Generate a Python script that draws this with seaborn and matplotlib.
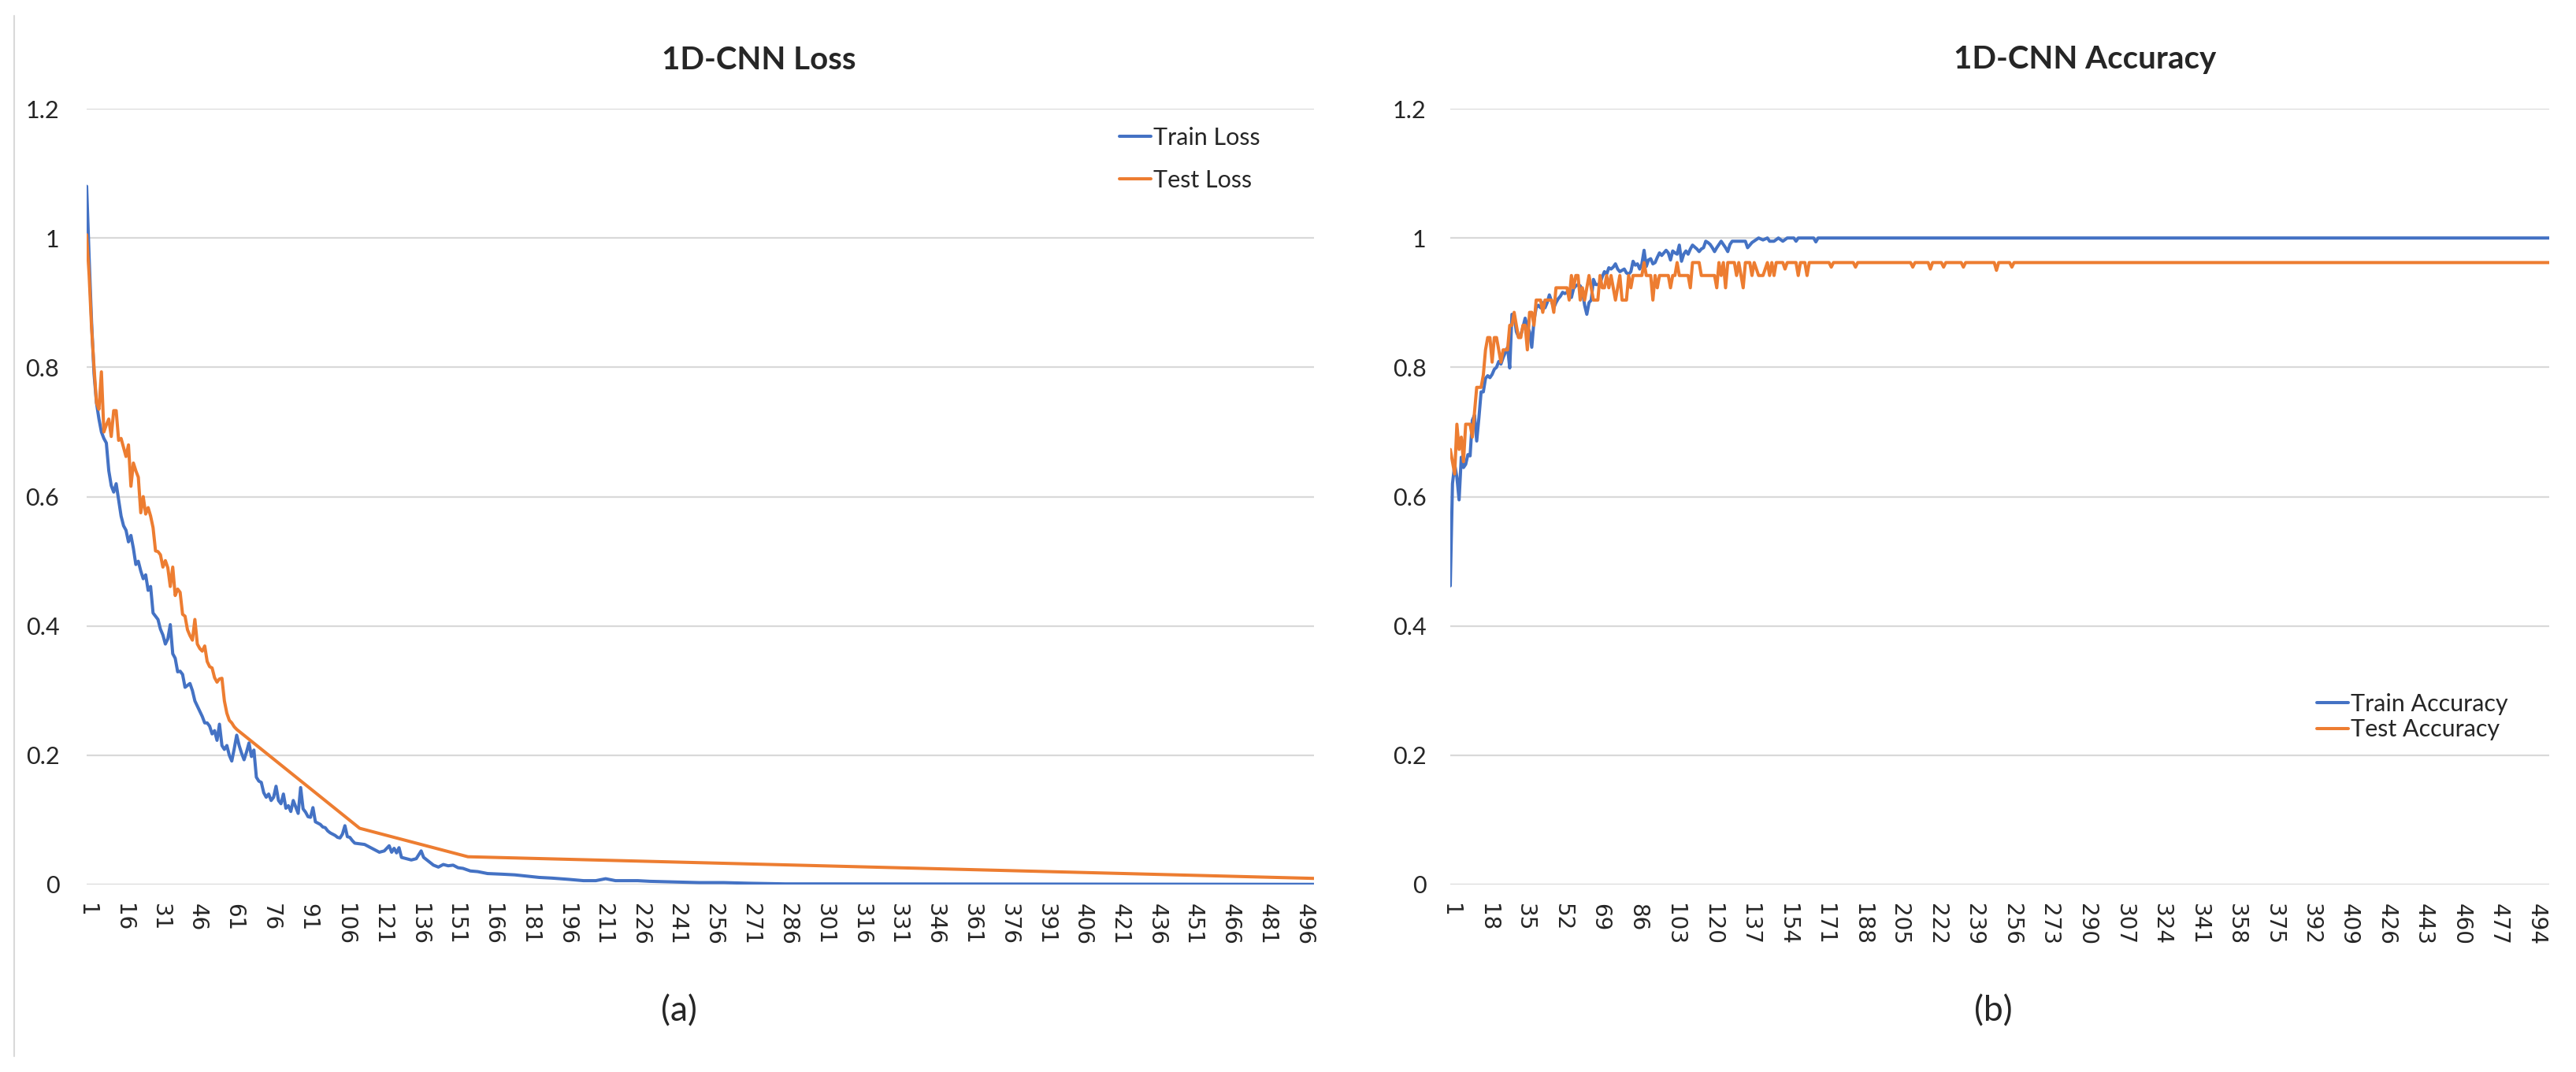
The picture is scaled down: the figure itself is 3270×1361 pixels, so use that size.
import matplotlib
matplotlib.use("Agg")
import matplotlib.pyplot as plt
import seaborn as sns
from matplotlib.lines import Line2D

# --- DATA ---
# 1D-CNN loss, train (epoch, value)
train_loss_epoch = [1, 2, 3, 4, 5, 6, 7, 8, 9, 10, 11, 12, 13, 14, 15, 16, 17, 18, 19, 20,
                    21, 22, 23, 24, 25, 26, 27, 28, 29, 30, 31, 32, 33, 34, 35, 36, 37, 38, 39, 40,
                    41, 42, 43, 44, 45, 46, 47, 48, 49, 50, 51, 52, 53, 54, 55, 56, 57, 58, 59, 60,
                    61, 62, 63, 64, 65, 66, 67, 68, 69, 70, 71, 72, 73, 74, 75, 76, 77, 78, 79, 80,
                    81, 82, 83, 84, 85, 86, 87, 88, 89, 90, 91, 92, 93, 94, 95, 96, 97, 98, 99, 100,
                    101, 102, 103, 104, 105, 106, 107, 108, 109, 110, 112, 114, 116, 118, 120, 122, 124, 125,
                    126, 127, 128, 129, 131, 133, 135, 137, 138, 140, 142, 144, 146, 148, 150, 152, 154, 157,
                    160, 164, 170, 175, 180, 185, 190, 197, 203, 208, 212, 216, 225, 230, 240, 250, 260, 270,
                    285, 300, 350, 400, 450, 500]
train_loss = [1.08, 0.97, 0.87, 0.79, 0.745, 0.72, 0.70, 0.69, 0.683, 0.64, 0.617, 0.607, 0.62, 0.595, 0.57,
              0.555, 0.548, 0.53, 0.54, 0.52, 0.495, 0.50, 0.485, 0.473, 0.479, 0.455, 0.461, 0.42, 0.415, 0.41,
              0.395, 0.386, 0.372, 0.38, 0.402, 0.357, 0.35, 0.329, 0.33, 0.325, 0.305, 0.308, 0.311, 0.30, 0.284,
              0.276, 0.268, 0.26, 0.25, 0.25, 0.245, 0.233, 0.238, 0.223, 0.248, 0.215, 0.209, 0.215, 0.20, 0.191,
              0.21, 0.231, 0.215, 0.203, 0.193, 0.205, 0.219, 0.198, 0.208, 0.166, 0.16, 0.158, 0.142, 0.135, 0.14,
              0.13, 0.135, 0.152, 0.13, 0.125, 0.14, 0.118, 0.122, 0.113, 0.13, 0.12, 0.11, 0.15, 0.117, 0.112,
              0.105, 0.104, 0.119, 0.097, 0.095, 0.093, 0.089, 0.088, 0.083, 0.08, 0.078, 0.076, 0.073, 0.072, 0.078,
              0.091, 0.074, 0.073, 0.068, 0.064, 0.063, 0.062, 0.058, 0.054, 0.05, 0.052, 0.06, 0.05, 0.056, 0.049,
              0.057, 0.042, 0.04, 0.038, 0.04, 0.052, 0.042, 0.036, 0.03, 0.027, 0.031, 0.029, 0.03, 0.026, 0.025,
              0.021, 0.02, 0.017, 0.016, 0.015, 0.013, 0.011, 0.010, 0.008, 0.006, 0.006, 0.009, 0.006, 0.006, 0.005,
              0.004, 0.003, 0.003, 0.002, 0.001, 0.001, 0.0008, 0.0005, 0.0004, 0.0003]

# 1D-CNN loss, test (only logged epochs, Excel joins the gaps)
test_loss_epoch = [1, 2, 3, 4, 5, 6, 7, 8, 9, 10, 11, 12, 13, 14, 15, 16, 17, 18, 19, 20,
                   21, 22, 23, 24, 25, 26, 27, 28, 29, 30, 31, 32, 33, 34, 35, 36, 37, 38, 39, 40,
                   41, 42, 43, 44, 45, 46, 47, 48, 49, 50, 51, 52, 53, 54, 55, 56, 57, 58, 59, 60,
                   61, 62, 112, 156, 500]
test_loss = [1.005, 0.943, 0.861, 0.80, 0.745, 0.735, 0.793, 0.70, 0.711, 0.72, 0.693, 0.733, 0.733, 0.687,
             0.69, 0.676, 0.662, 0.68, 0.616, 0.652, 0.64, 0.63, 0.575, 0.60, 0.573, 0.583, 0.57, 0.552, 0.516,
             0.515, 0.51, 0.491, 0.501, 0.49, 0.461, 0.491, 0.447, 0.457, 0.452, 0.418, 0.415, 0.394, 0.385, 0.378,
             0.41, 0.372, 0.365, 0.361, 0.369, 0.345, 0.337, 0.335, 0.32, 0.313, 0.318, 0.319, 0.284, 0.265, 0.254,
             0.25, 0.244, 0.24, 0.087, 0.043, 0.0095]

# 1D-CNN accuracy, train
train_acc_epoch = [1, 2, 3, 4, 5, 6, 7, 8, 9, 10, 11, 12, 13, 14, 15, 16, 17, 18, 19, 20,
                   21, 22, 23, 24, 25, 26, 27, 28, 29, 30, 31, 32, 33, 34, 35, 36, 37, 38, 39, 40,
                   41, 42, 43, 44, 45, 46, 47, 48, 49, 50, 51, 52, 53, 54, 55, 56, 57, 58, 59, 60,
                   61, 62, 63, 64, 65, 66, 67, 68, 69, 70, 71, 72, 73, 74, 75, 76, 77, 78, 79, 80,
                   81, 82, 83, 84, 85, 86, 87, 88, 89, 90, 91, 92, 93, 94, 95, 96, 97, 98, 99, 100,
                   101, 102, 103, 104, 105, 106, 107, 108, 109, 110, 111, 112, 113, 114, 115, 116, 117, 118,
                   119, 120, 121, 122, 123, 124, 125, 126, 127, 128, 129, 135, 136, 138, 141, 143, 145, 146,
                   148, 150, 152, 154, 157, 158, 159, 166, 167, 168, 500]
train_acc = [0.462, 0.62, 0.65, 0.63, 0.595, 0.661, 0.645, 0.65, 0.665, 0.663, 0.718, 0.726, 0.686, 0.722,
             0.762, 0.762, 0.783, 0.787, 0.784, 0.789, 0.797, 0.80, 0.809, 0.805, 0.815, 0.823, 0.831, 0.799,
             0.882, 0.88, 0.855, 0.847, 0.85, 0.862, 0.876, 0.863, 0.855, 0.831, 0.872, 0.892, 0.896, 0.892,
             0.90, 0.892, 0.90, 0.912, 0.902, 0.892, 0.90, 0.906, 0.91, 0.916, 0.914, 0.916, 0.918, 0.908, 0.922,
             0.926, 0.928, 0.926, 0.918, 0.896, 0.882, 0.90, 0.904, 0.936, 0.928, 0.928, 0.93, 0.94, 0.948, 0.944,
             0.954, 0.952, 0.955, 0.96, 0.952, 0.948, 0.95, 0.952, 0.946, 0.944, 0.948, 0.964, 0.958, 0.96, 0.952,
             0.96, 0.981, 0.956, 0.966, 0.968, 0.96, 0.962, 0.97, 0.977, 0.973, 0.977, 0.981, 0.977, 0.966, 0.98,
             0.977, 0.975, 0.989, 0.964, 0.975, 0.98, 0.975, 0.983, 0.989, 0.986, 0.983, 0.979, 0.983, 0.985,
             0.995, 0.993, 0.99, 0.985, 0.979, 0.985, 0.99, 0.995, 0.99, 0.985, 0.979, 0.99, 0.995, 0.995, 0.985,
             0.993, 1.0, 0.997, 1.0, 0.995, 0.995, 1.0, 0.995, 1.0, 1.0, 0.995, 1.0, 1.0, 0.994, 1.0, 1.0]

# 1D-CNN accuracy, test
test_acc_epoch = [1, 2, 3, 4, 5, 6, 7, 8, 9, 10, 11, 12, 13, 14, 15, 16, 17, 18, 19, 20,
                  21, 22, 23, 24, 25, 26, 27, 28, 29, 30, 31, 32, 33, 34, 35, 36, 37, 38, 39, 40,
                  41, 42, 43, 44, 45, 46, 47, 48, 49, 54, 55, 56, 57, 58, 59, 60,
                  61, 62, 63, 64, 65, 66, 68, 69, 70, 71, 72, 73, 74, 75, 76, 77, 78, 79, 81,
                  82, 83, 84, 88, 89, 90, 92, 93, 94, 95, 96, 100, 101, 102, 103, 104, 105, 109,
                  110, 111, 114, 115, 121, 122, 123, 124, 125, 126, 127, 130, 131, 132, 134, 135, 137, 138,
                  139, 141, 143, 145, 146, 147, 148, 149, 152, 153, 154, 158, 159, 160, 162, 163, 164, 173,
                  174, 175, 184, 185, 186, 210, 211, 212, 218, 219, 220, 224, 225, 226, 233, 234, 235, 248,
                  249, 250, 255, 256, 257, 500]
test_acc = [0.673, 0.654, 0.635, 0.712, 0.673, 0.692, 0.654, 0.712, 0.712, 0.712, 0.692, 0.731, 0.769, 0.769,
            0.769, 0.788, 0.827, 0.846, 0.846, 0.808, 0.846, 0.846, 0.827, 0.808, 0.827, 0.827, 0.827, 0.865,
            0.865, 0.885, 0.865, 0.846, 0.846, 0.865, 0.865, 0.827, 0.885, 0.885, 0.865, 0.904, 0.904, 0.904,
            0.885, 0.904, 0.904, 0.904, 0.904, 0.885, 0.923, 0.923, 0.904, 0.942, 0.923, 0.942, 0.942, 0.904,
            0.923, 0.904, 0.923, 0.942, 0.923, 0.904, 0.904, 0.942, 0.923, 0.923, 0.942, 0.923, 0.942, 0.923,
            0.904, 0.923, 0.942, 0.904, 0.904, 0.942, 0.923, 0.942, 0.942, 0.962, 0.942, 0.942, 0.904, 0.942,
            0.923, 0.942, 0.942, 0.923, 0.942, 0.942, 0.962, 0.942, 0.942, 0.923, 0.962, 0.962, 0.942, 0.942,
            0.923, 0.962, 0.942, 0.962, 0.923, 0.962, 0.962, 0.942, 0.962, 0.923, 0.962, 0.962, 0.942, 0.962,
            0.942, 0.942, 0.962, 0.942, 0.962, 0.942, 0.962, 0.962, 0.952, 0.962, 0.962, 0.942, 0.962, 0.962,
            0.942, 0.962, 0.962, 0.955, 0.962, 0.962, 0.955, 0.962, 0.962, 0.955, 0.962, 0.962, 0.952, 0.962,
            0.962, 0.955, 0.962, 0.962, 0.955, 0.962, 0.962, 0.95, 0.962, 0.962, 0.955, 0.962, 0.962]

y_ticks = [0, 0.2, 0.4, 0.6, 0.8, 1.0, 1.2]
y_labels = ['0', '0.2', '0.4', '0.6', '0.8', '1', '1.2']

# --- STYLE ---
sns.set_style("white")
plt.rcParams['font.family'] = ['Lato', 'DejaVu Sans']

BLUE = '#4472C4'
ORANGE = '#ED7D31'
GRID = '#d9d9d9'
W, H = 3270, 1361

fig = plt.figure(figsize=(W / 100, H / 100), dpi=100)
ax1 = fig.add_axes([110 / W, 1 - 1123 / H, (1668 - 110) / W, (1123 - 138) / H])
ax2 = fig.add_axes([1841 / W, 1 - 1123 / H, (3236 - 1841) / W, (1123 - 138) / H])

sns.lineplot(x=train_loss_epoch, y=train_loss, ax=ax1, color=BLUE, lw=2.9, label='Train Loss',
             estimator=None, sort=False)
sns.lineplot(x=test_loss_epoch, y=test_loss, ax=ax1, color=ORANGE, lw=2.9, label='Test Loss',
             estimator=None, sort=False)
sns.lineplot(x=train_acc_epoch, y=train_acc, ax=ax2, color=BLUE, lw=2.9, label='Train Accuracy',
             estimator=None, sort=False)
sns.lineplot(x=test_acc_epoch, y=test_acc, ax=ax2, color=ORANGE, lw=2.9, label='Test Accuracy',
             estimator=None, sort=False)

for ax, step, last, ypad in [(ax1, 15, 496, 25), (ax2, 17, 494, 22)]:
    ax.set_xlim(1, 500)
    ax.set_ylim(0, 1.2)
    ax.set_yticks(y_ticks)
    ax.set_yticklabels(y_labels, fontsize=22)
    xt = list(range(1, last + 1, step))
    ax.set_xticks(xt)
    ax.set_xticklabels([str(v) for v in xt], rotation=-90, fontsize=20, family='DejaVu Sans')
    ax.tick_params(axis='both', length=0)
    ax.tick_params(axis='y', pad=ypad)
    ax.tick_params(axis='x', pad=17)
    ax.grid(axis='y', color=GRID, lw=1.6)
    ax.grid(axis='x', visible=False)
    ax.set_axisbelow(True)
    for s in ax.spines.values():
        s.set_visible(False)
    ax.set_xlabel('')
    ax.set_ylabel('')

ax1.legend(loc='center left', bbox_to_anchor=(1421 / W, 1 - 202 / H), bbox_transform=fig.transFigure,
           frameon=False, fontsize=22, handlelength=1.3, handletextpad=0.1, borderpad=0,
           borderaxespad=0, labelspacing=0.85)
ax2.legend(loc='center left', bbox_to_anchor=(2941 / W, 1 - 910 / H), bbox_transform=fig.transFigure,
           frameon=False, fontsize=22, handlelength=1.3, handletextpad=0.1, borderpad=0,
           borderaxespad=0, labelspacing=0.15)

fig.text(963 / W, 1 - 76 / H, '1D-CNN Loss', ha='center', va='center', fontsize=29, fontweight='bold')
fig.text(2647 / W, 1 - 76 / H, '1D-CNN Accuracy', ha='center', va='center', fontsize=29, fontweight='bold')
fig.text(862 / W, 1 - 1284 / H, '(a)', ha='center', va='center', fontsize=32)
fig.text(2530 / W, 1 - 1284 / H, '(b)', ha='center', va='center', fontsize=32)

# chart-object border on the far left
fig.add_artist(Line2D([18 / W, 18 / W], [1 - 20 / H, 1 - 1341 / H], color=GRID, lw=1.5))

fig.savefig('out.png', dpi=100)
